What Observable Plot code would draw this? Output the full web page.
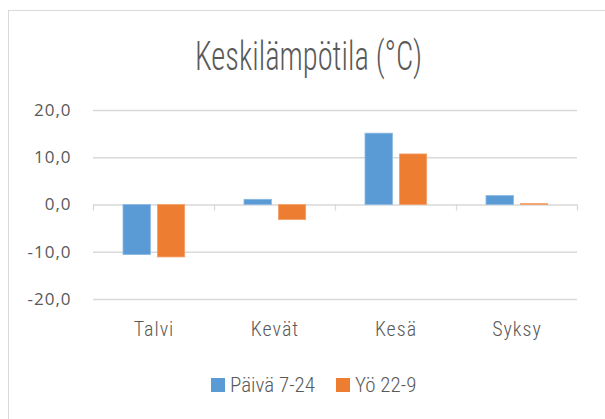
<!DOCTYPE html>
<html><head><meta charset="utf-8">
<script src="https://cdn.jsdelivr.net/npm/d3@7"></script>
<script src="https://cdn.jsdelivr.net/npm/@observablehq/plot@0.6"></script>
<style>
body{margin:0;background:#fff;}
#wrap{position:relative;width:605px;height:419px;overflow:hidden;background:#fff;}
#frame{position:absolute;left:8px;top:10px;width:700px;height:500px;border:1px solid #d9d9d9;box-sizing:border-box;}
#chart{position:absolute;left:0;top:0;}
#overlay{position:absolute;left:0;top:0;}
</style></head>
<body>
<div id="wrap"><div id="frame"></div><div id="chart"></div></div>
<script>
const titleText = "Keskilämpötila (°C)";
const seasons = ["Talvi", "Kevät", "Kesä", "Syksy"];
const seriesNames = ["Päivä 7-24", "Yö 22-9"];
const dayTemps = [-10.6, 1.1, 15.1, 1.9];
const nightTemps = [-11.1, -3.2, 10.7, 0.2];
const yTicks = [-20, -10, 0, 10, 20];
const colors = ["#5B9BD5", "#ED7D31"];

const rows = seasons.flatMap((s, i) => [
  {season: s, series: seriesNames[0], value: dayTemps[i]},
  {season: s, series: seriesNames[1], value: nightTemps[i]}
]);

const W = 605, H = 419, mL = 93, mR = 28, mT = 110, mB = 120;
const band = (W - mL - mR) / seasons.length;
const yPx = (H - mT - mB) / (yTicks[yTicks.length - 1] - yTicks[0]);
const condensed = "'Roboto Condensed','Liberation Sans Narrow','DejaVu Sans Condensed',sans-serif";
const textColor = "#595959";
const gridColor = "#d9d9d9";
const fmt = d => d.toFixed(1).replace(".", ",");

const plot = Plot.plot({
  width: W, height: H,
  marginLeft: mL, marginRight: mR, marginTop: mT, marginBottom: mB,
  style: {fontFamily: "'Open Sans', sans-serif", fontSize: "17px", letterSpacing: "1px", color: textColor, background: "transparent"},
  x: {domain: seasons, padding: 0, axis: null},
  y: {domain: [yTicks[0], yTicks[yTicks.length - 1]], ticks: yTicks, tickFormat: fmt, tickSize: 0, tickPadding: 22, label: null},
  marks: [
    Plot.ruleY(yTicks, {stroke: gridColor, strokeWidth: 1.3}),
    Plot.ruleX(seasons, {x: d => d, y1: 0, y2: -6 / yPx, dx: -band / 2, stroke: gridColor, strokeWidth: 1.3}),
    Plot.ruleX(seasons.slice(-1), {x: d => d, y1: 0, y2: -6 / yPx, dx: band / 2, stroke: gridColor, strokeWidth: 1.3}),
    Plot.barY(rows.filter(d => d.series === seriesNames[0]), {x: "season", y: "value", fill: colors[0], stroke: "#8bb8e3", strokeWidth: 0.8, insetLeft: 30, insetRight: band - 57.4}),
    Plot.barY(rows.filter(d => d.series === seriesNames[1]), {x: "season", y: "value", fill: colors[1], stroke: "#f3a26d", strokeWidth: 0.8, insetLeft: 64.4, insetRight: band - 91.7}),
    Plot.text(seasons, {x: d => d, text: d => d, frameAnchor: "bottom", dy: 36, fontSize: 20, fontFamily: condensed, fontWeight: 300, letterSpacing: "0px", fill: textColor})
  ]
});
document.getElementById("chart").appendChild(plot);

// title and legend overlay
const svg = d3.select("#wrap").append("svg").attr("id", "overlay").attr("width", W).attr("height", H);
svg.append("text").text(titleText)
  .attr("x", 308.5).attr("y", 70).attr("text-anchor", "middle")
  .attr("font-family", condensed).attr("font-weight", 300).attr("font-size", 41)
  .attr("fill", textColor).attr("textLength", 227).attr("lengthAdjust", "spacingAndGlyphs");

const legendX = [211, 336];
const lg = svg.append("g");
seriesNames.forEach((name, i) => {
  lg.append("rect").attr("x", legendX[i]).attr("y", 378).attr("width", 14).attr("height", 14).attr("fill", colors[i]);
  lg.append("text").text(name).attr("x", legendX[i] + 19).attr("y", 392)
    .attr("font-family", condensed).attr("font-weight", 300).attr("font-size", 21).attr("fill", textColor);
});
</script>
</body></html>
